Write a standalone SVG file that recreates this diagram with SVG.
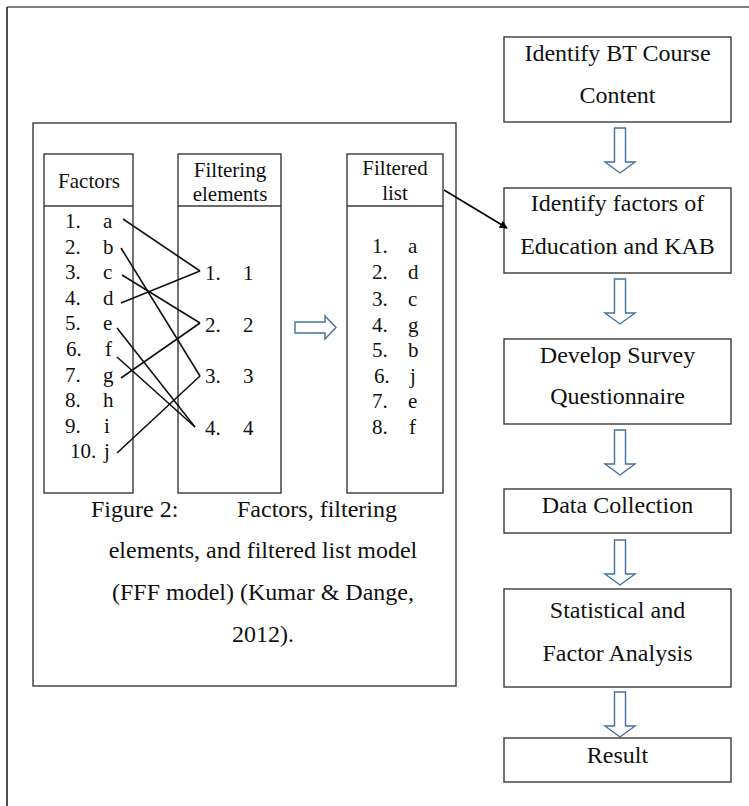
<svg xmlns="http://www.w3.org/2000/svg" width="749" height="806" viewBox="0 0 749 806">
  <style>
    text { font-family: "Liberation Serif", "Times New Roman", serif; fill: #111; }
    .lst { font-size: 21px; }
    .big { font-size: 24px; }
    .ctr { text-anchor: middle; }
    .box { fill: #fff; stroke: #3a3a3a; stroke-width: 1.4; }
    .hollow { fill: #fff; stroke: #41719c; stroke-width: 1.4; stroke-linejoin: miter; }
    .link { stroke: #111; stroke-width: 1.6; fill: none; }
  </style>
  <defs>
    <marker id="tri" viewBox="0 0 10 10" refX="9" refY="5" markerWidth="8" markerHeight="8" markerUnits="userSpaceOnUse" orient="auto">
      <path d="M0,0 L10,5 L0,10 Z" fill="#000"/>
    </marker>
    <!-- hollow block arrow pointing down, origin at shaft top centre -->
    <path id="downArrow" d="M-5.5,0 H5.5 V34 H15 L0,45 L-15,34 H-5.5 Z"/>
  </defs>

  <rect width="749" height="806" fill="#fff"/>

  <!-- page frame -->
  <line x1="7" y1="7" x2="749" y2="7" stroke="#555" stroke-width="1.4"/>
  <line x1="7" y1="7" x2="7" y2="806" stroke="#222" stroke-width="1.6"/>

  <!-- FFF model panel -->
  <g id="fff-panel">
    <rect class="box" x="33" y="123" width="423" height="563"/>
  </g>

  <g id="factors">
    <rect class="box" x="44" y="154" width="89" height="339"/>
    <line x1="44" y1="206" x2="133" y2="206" stroke="#3a3a3a" stroke-width="1.4"/>
    <text class="lst ctr" x="89" y="188">Factors</text>
    <g class="lst">
      <text x="65" y="228">1.</text><text x="103" y="228">a</text>
      <text x="65" y="253.6">2.</text><text x="103" y="253.6">b</text>
      <text x="65" y="279.2">3.</text><text x="103" y="279.2">c</text>
      <text x="65" y="304.8">4.</text><text x="103" y="304.8">d</text>
      <text x="65" y="330.4">5.</text><text x="103" y="330.4">e</text>
      <text x="66" y="356">6.</text><text x="105" y="356">f</text>
      <text x="65" y="381.6">7.</text><text x="103" y="381.6">g</text>
      <text x="65" y="407.2">8.</text><text x="103" y="407.2">h</text>
      <text x="65" y="432.8">9.</text><text x="104" y="432.8">i</text>
      <text x="70" y="458.4">10.</text><text x="104" y="458.4">j</text>
    </g>
  </g>

  <g id="filtering-elements">
    <rect class="box" x="178" y="154" width="103" height="339"/>
    <line x1="178" y1="206" x2="281" y2="206" stroke="#3a3a3a" stroke-width="1.4"/>
    <text class="lst ctr" x="230" y="177">Filtering</text>
    <text class="lst ctr" x="230" y="201">elements</text>
    <g class="lst">
      <text x="205" y="280">1.</text><text x="243" y="280">1</text>
      <text x="205" y="332">2.</text><text x="243" y="332">2</text>
      <text x="205" y="383">3.</text><text x="243" y="383">3</text>
      <text x="205" y="435">4.</text><text x="243" y="435">4</text>
    </g>
  </g>

  <g id="filtered-list">
    <rect class="box" x="347" y="154" width="96" height="339"/>
    <line x1="347" y1="206" x2="443" y2="206" stroke="#3a3a3a" stroke-width="1.4"/>
    <text class="lst ctr" x="395" y="175">Filtered</text>
    <text class="lst ctr" x="395" y="200">list</text>
    <g class="lst">
      <text x="372" y="253">1.</text><text x="408" y="253">a</text>
      <text x="372" y="279">2.</text><text x="408" y="279">d</text>
      <text x="372" y="306">3.</text><text x="408" y="306">c</text>
      <text x="372" y="332">4.</text><text x="408" y="332">g</text>
      <text x="372" y="357">5.</text><text x="408" y="357">b</text>
      <text x="374" y="383">6.</text><text x="410" y="383">j</text>
      <text x="372" y="408">7.</text><text x="408" y="408">e</text>
      <text x="372" y="434">8.</text><text x="409" y="434">f</text>
    </g>
  </g>

  <g id="caption" class="big">
    <text x="91" y="517">Figure 2:</text>
    <text x="237" y="517">Factors, filtering</text>
    <text class="ctr" x="263" y="558">elements, and filtered list model</text>
    <text class="ctr" x="263" y="600">(FFF model) (Kumar &amp; Dange,</text>
    <text class="ctr" x="263" y="642">2012).</text>
  </g>

  <!-- process flow -->
  <g id="step-course">
    <rect class="box" x="504" y="37" width="227" height="85"/>
    <text class="big ctr" x="617.5" y="61">Identify BT Course</text>
    <text class="big ctr" x="617.5" y="103">Content</text>
  </g>
  <g id="step-factors">
    <rect class="box" x="504" y="188" width="227" height="85"/>
    <text class="big ctr" x="617.5" y="211">Identify factors of</text>
    <text class="big ctr" x="617.5" y="254">Education and KAB</text>
  </g>
  <g id="step-survey">
    <rect class="box" x="504" y="339" width="227" height="85"/>
    <text class="big ctr" x="617.5" y="363">Develop Survey</text>
    <text class="big ctr" x="617.5" y="404">Questionnaire</text>
  </g>
  <g id="step-data">
    <rect class="box" x="504" y="489" width="227" height="44"/>
    <text class="big ctr" x="617.5" y="513">Data Collection</text>
  </g>
  <g id="step-analysis">
    <rect class="box" x="504" y="589" width="227" height="98"/>
    <text class="big ctr" x="617.5" y="618">Statistical and</text>
    <text class="big ctr" x="617.5" y="661">Factor Analysis</text>
  </g>
  <g id="step-result">
    <rect class="box" x="504" y="738" width="227" height="44"/>
    <text class="big ctr" x="617.5" y="763">Result</text>
  </g>

  <g id="connectors">
    <!-- factor to filtering-element links -->
    <g class="link">
      <line x1="123" y1="219" x2="200" y2="271"/>
      <line x1="121" y1="303" x2="200" y2="271"/>
      <line x1="121" y1="248" x2="200" y2="376"/>
      <line x1="122" y1="275" x2="200" y2="323"/>
      <line x1="121" y1="378" x2="200" y2="323"/>
      <line x1="117" y1="328" x2="195" y2="427"/>
      <line x1="117" y1="357" x2="195" y2="427"/>
      <line x1="117" y1="453" x2="200" y2="376"/>
    </g>
    <!-- filtering elements to filtered list -->
    <path class="hollow" d="M295,322 H325 V316 L336,327.5 L325,339 V333 H295 Z"/>
    <!-- filtered list feeds the factor identification step -->
    <line x1="444" y1="190" x2="507" y2="228" stroke="#000" stroke-width="1.6" marker-end="url(#tri)"/>
    <!-- flow arrows between steps -->
    <use href="#downArrow" class="hollow" x="620" y="128"/>
    <use href="#downArrow" class="hollow" x="620" y="279"/>
    <use href="#downArrow" class="hollow" x="620" y="430"/>
    <use href="#downArrow" class="hollow" x="620" y="540"/>
    <use href="#downArrow" class="hollow" x="620" y="692"/>
  </g>
</svg>
